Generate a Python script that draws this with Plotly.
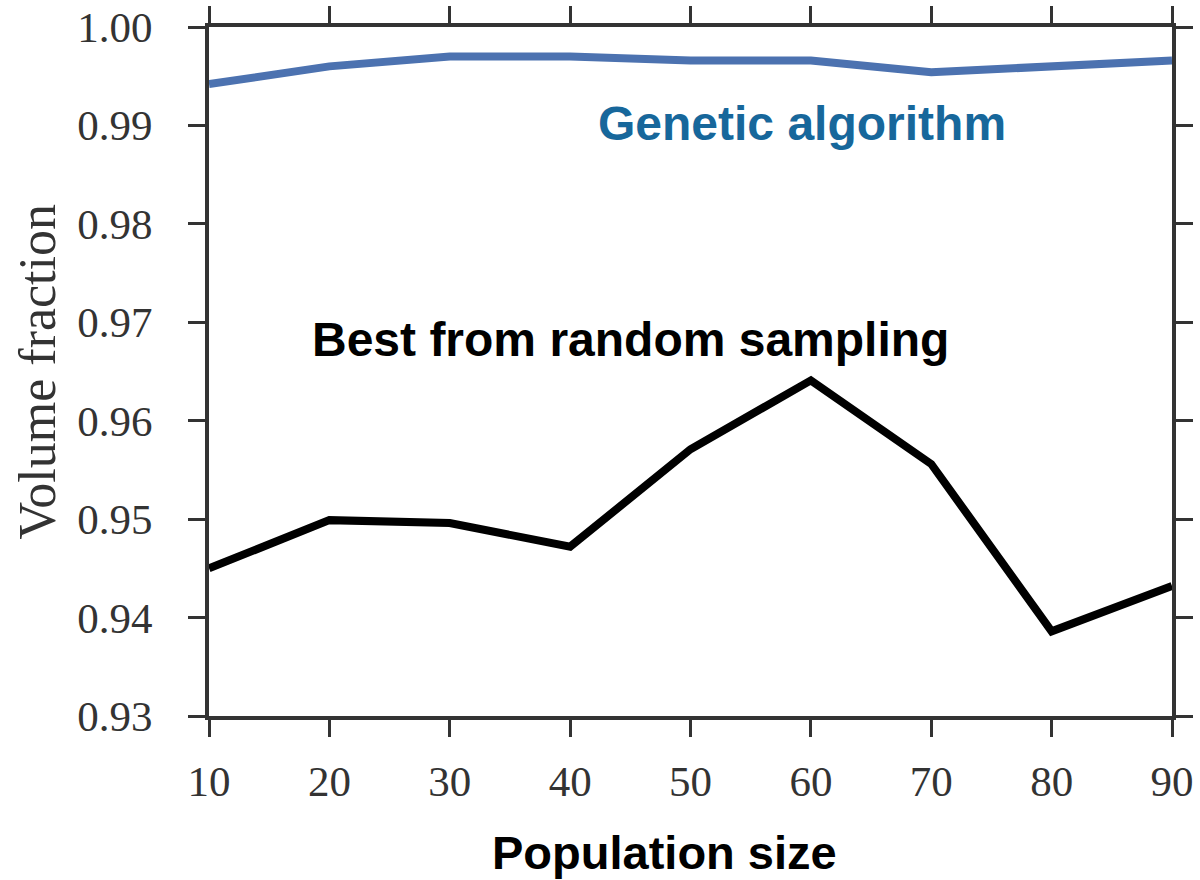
import plotly.graph_objects as go

population = [10, 20, 30, 40, 50, 60, 70, 80, 90]
genetic = [0.9942, 0.9960, 0.9970, 0.9970, 0.9966, 0.9966, 0.9954, 0.9960, 0.9966]
random_best = [0.9450, 0.9499, 0.9496, 0.9472, 0.9571, 0.9641, 0.9556, 0.9386, 0.9432]
y_ticks = [0.93, 0.94, 0.95, 0.96, 0.97, 0.98, 0.99, 1.00]
x_ticks = [10, 20, 30, 40, 50, 60, 70, 80, 90]

W, H = 1200, 880
L, R, T, B = 209, 28, 27, 164
pw, ph = W - L - R, H - T - B

fig = go.Figure()
fig.add_trace(go.Scatter(x=population, y=genetic, mode="lines",
                         line=dict(color="#4C72B0", width=8), showlegend=False))
fig.add_trace(go.Scatter(x=population, y=random_best, mode="lines",
                         line=dict(color="#000000", width=8), showlegend=False))

fig.add_annotation(x=59.3, y=0.9902, text="<b>Genetic algorithm</b>", showarrow=False,
                   font=dict(family="Liberation Sans, Arial", size=48, color="#17679B"))
fig.add_annotation(x=45, y=0.9683, text="<b>Best from random sampling</b>", showarrow=False,
                   font=dict(family="Liberation Sans, Arial", size=48, color="#000000"))

# axis titles
fig.add_annotation(xref="paper", yref="paper", x=(664 - L) / pw, y=-(852 - T - ph) / ph,
                   text="<b>Population size</b>", showarrow=False,
                   xanchor="center", yanchor="middle",
                   font=dict(family="Liberation Sans, Arial", size=47, color="#000000"))
fig.add_annotation(xref="paper", yref="paper", x=-(L - 37) / pw, y=0.5,
                   text="Volume fraction", showarrow=False, textangle=-90,
                   xanchor="center", yanchor="middle",
                   font=dict(family="Liberation Serif, Times New Roman", size=52, color="#333333"))

axis_common = dict(showline=True, linecolor="#333333", linewidth=4, mirror="ticks",
                   ticks="outside", ticklen=17, tickwidth=3, tickcolor="#333333",
                   showgrid=False, zeroline=False, automargin=False,
                   tickfont=dict(family="Liberation Serif, Times New Roman", size=43, color="#333333"))

fig.update_xaxes(range=[10, 90], tickvals=x_ticks, ticktext=[str(v) for v in x_ticks],
                 ticklabelstandoff=7, **axis_common)
fig.update_yaxes(range=[0.93, 1.00], tickvals=y_ticks, ticktext=[f"{v:.2f}" for v in y_ticks],
                 ticklabelstandoff=27, **axis_common)

fig.update_layout(width=W, height=H, margin=dict(l=L, r=R, t=T, b=B),
                  plot_bgcolor="white", paper_bgcolor="white")

fig.write_html("out.html")
